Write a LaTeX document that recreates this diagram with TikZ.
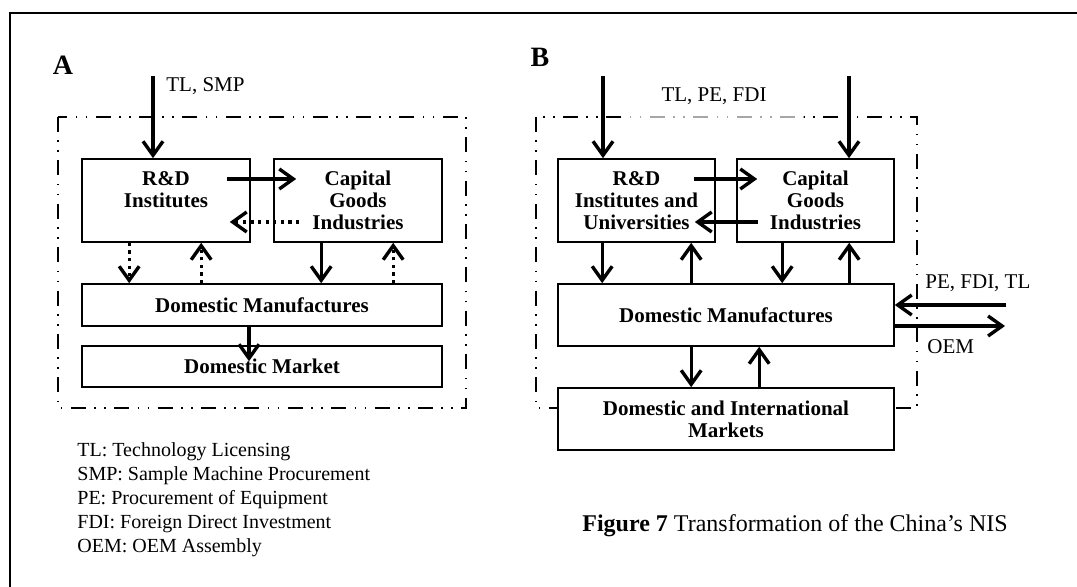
\documentclass[tikz,border=0pt]{standalone}
\usepackage{fontspec}
\setmainfont{Liberation Serif}
\usetikzlibrary{arrows.meta}
\tikzstyle{unit}=[draw,line width=0.8pt,align=center,inner sep=0pt,font=\bfseries\fontsize{10.5}{11}\selectfont]
\tikzstyle{market}=[fill=white]
\tikzstyle{flow}=[-{Straight Barb[length=7pt,width=10pt]},line width=1.7pt]
\tikzstyle{weakflow}=[flow,dash pattern=on 1.6pt off 2.2pt]
\tikzstyle{system}=[line width=0.9pt,dash pattern=on 7.5pt off 4.2pt on 0.8pt off 4.2pt on 0.8pt off 4.2pt]
\tikzstyle{tag}=[font=\fontsize{10.5}{12}\selectfont,inner sep=0pt]

\begin{document}
\begin{tikzpicture}[x=0.5pt,y=-0.5pt]
  \useasboundingbox (0,0) rectangle (1077,587);
  \draw[line width=1pt] (10,600) -- (10,13) -- (1090,13);

  %% Panel A
  \draw (63,65) node[font=\bfseries\fontsize{14}{14}\selectfont] (labA) {A};
  \draw[system] (58,117) rectangle (466,408);
  \draw (166,200.5) node[unit,minimum width=84pt,minimum height=41.5pt] (RDa) {R\&D\\Institutes\\~};
  \draw (358,200.5) node[unit,minimum width=84pt,minimum height=41.5pt] (CGa) {Capital\\Goods\\Industries};
  \draw (262,305) node[unit,minimum width=180pt,minimum height=21pt] (DMa) {Domestic Manufactures};
  \draw (262,366.5) node[unit,minimum width=180pt,minimum height=20.5pt] (MKa) {Domestic Market};

  \coordinate (inA) at (153,76);
  \draw[flow] (inA) -- (inA |- RDa.north);
  \draw (166,86) node[tag,anchor=west] (tagA) {TL, SMP};

  \draw[flow] ([shift={(-12pt,10.75pt)}]RDa.east) -- ([shift={(11.5pt,10.75pt)}]CGa.west);
  \draw[weakflow] ([shift={(13pt,-10.75pt)}]CGa.west) -- ([shift={(-10.5pt,-10.75pt)}]RDa.east);
  \draw[weakflow] ([xshift=24pt]RDa.south west) -- ([xshift=24pt]DMa.north west);
  \draw[weakflow] ([xshift=60pt]DMa.north west) -- ([xshift=60pt]RDa.south west);
  \draw[flow] ([xshift=24pt]CGa.south west) -- ([xshift=120pt]DMa.north west);
  \draw[weakflow] ([xshift=156pt]DMa.north west) -- ([xshift=60pt]CGa.south west);
  \draw[flow] ([xshift=-6.5pt]DMa.south) -- ([shift={(-6.5pt,-8pt)}]MKa.north);

  %% Panel B
  \draw (540,57) node[font=\bfseries\fontsize{14}{14}\selectfont] (labB) {B};
  \draw[system] (536,117) rectangle (917,408);
  \draw (714,102) node[tag,anchor=base,minimum width=90pt,text height=11pt,text depth=9.5pt,fill=white,fill opacity=0.65,text opacity=1] (tagB) {TL, PE, FDI};
  \draw (636.5,200.5) node[unit,minimum width=78.5pt,minimum height=41.5pt] (RDb) {R\&D\\Institutes and\\Universities};
  \draw (815.5,200.5) node[unit,minimum width=78.5pt,minimum height=41.5pt] (CGb) {Capital\\Goods\\Industries};
  \draw (726,315) node[unit,minimum width=168pt,minimum height=31pt] (DMb) {Domestic Manufactures};
  \draw (726,419) node[unit,market,minimum width=168pt,minimum height=31pt] (MKb) {Domestic and International\\Markets};

  \coordinate (inB1) at (603,76);
  \coordinate (inB2) at (849,76);
  \draw[flow] (inB1) -- (inB1 |- RDb.north);
  \draw[flow] (inB2) -- (inB2 |- CGb.north);

  \draw[flow] ([shift={(-11pt,10.75pt)}]RDb.east) -- ([shift={(10.5pt,10.75pt)}]CGb.west);
  \draw[flow] ([shift={(11pt,-10.75pt)}]CGb.west) -- ([shift={(-10.5pt,-10.75pt)}]RDb.east);
  \draw[flow] ([xshift=22.5pt]RDb.south west) -- ([xshift=22.5pt]DMb.north west);
  \draw[flow] ([xshift=67pt]DMb.north west) -- ([xshift=67pt]RDb.south west);
  \draw[flow] ([xshift=23pt]CGb.south west) -- ([xshift=112.5pt]DMb.north west);
  \draw[flow] ([xshift=146pt]DMb.north west) -- ([xshift=56.5pt]CGb.south west);
  \draw[flow] ([xshift=67pt]DMb.south west) -- ([xshift=67pt]MKb.north west);
  \draw[flow] ([xshift=101pt]MKb.north west) -- ([xshift=101pt]DMb.south west);

  \coordinate (extIn) at (1006,305);
  \coordinate (extOut) at (1005,326);
  \draw[flow] (extIn) -- (extIn -| DMb.east);
  \draw[flow] (extOut -| DMb.east) -- (extOut);
  \draw (925,283) node[tag,anchor=west] (tagIn) {PE, FDI, TL};
  \draw (927,347) node[tag,anchor=west] (tagOut) {OEM};

  %% Legend and caption
  \draw (77,500) node[anchor=west,align=left,inner sep=0pt,font=\fontsize{10}{12}\selectfont] (legend)
    {TL: Technology Licensing\\SMP: Sample Machine Procurement\\PE: Procurement of Equipment\\FDI: Foreign Direct Investment\\OEM: OEM Assembly};
  \draw (582,526) node[anchor=west,inner sep=0pt,font=\fontsize{12}{14}\selectfont] (caption)
    {\textbf{Figure 7} Transformation of the China's NIS};
\end{tikzpicture}
\end{document}
